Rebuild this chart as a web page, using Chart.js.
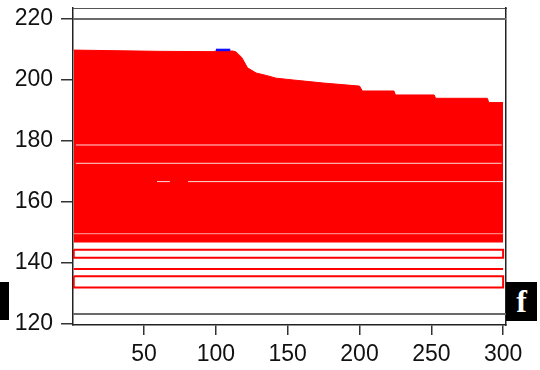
<!DOCTYPE html>
<html>
<head>
<meta charset="utf-8">
<script src="https://cdn.jsdelivr.net/npm/chart.js@4.4.1/dist/chart.umd.min.js"></script>
<style>
  html, body { margin: 0; padding: 0; background: #fff; }
  #wrap { position: relative; width: 540px; height: 370px; overflow: hidden; }
  canvas { display: block; }
  .tag {
    position: absolute; background: #000; color: #fff;
    font-family: "Liberation Serif", "DejaVu Serif", serif; font-weight: bold;
    font-size: 32px; line-height: 38px; text-align: center;
  }
  #tagE { left: -24px; top: 282px; width: 33px; height: 38px; }
  #tagF { left: 506px; top: 282px; width: 31px; height: 39px; }
</style>
</head>
<body>
<div id="wrap">
  <canvas id="c" width="540" height="370"></canvas>
  <div class="tag" id="tagE">e</div>
  <div class="tag" id="tagF">f</div>
</div>
<script>
// sample range of every trace
const runStart = 1;
const runEnd = 300;

// axis tick values
const xTicks = [50, 100, 150, 200, 250, 300];
const yTicks = [120, 140, 160, 180, 200, 220];

// upper edge of the dense bundle of red traces
const topX = [1, 59, 98, 100, 112, 114, 118, 122, 128, 135, 142, 154, 175, 200, 202, 224, 225, 252, 253, 289, 290, 300];
const topY = [209.8, 209.4, 209.3, 209.5, 209.5, 209.2, 207.4, 204.0, 202.3, 201.5, 200.6, 200.0, 199.0, 198.0, 196.4, 196.4, 195.1, 195.1, 194.0, 194.0, 192.6, 192.6];

// lower edge of the dense bundle
const bundleFloor = 149.7;

// single blue trace riding on top of the bundle
const blueX = [100, 110];
const blueY = [209.85, 209.85];

// thin gaps running through the bundle
const gapLevels = [178.7, 172.7];
const gapFrom = [2.5, 2.5];
const gapTo = [299, 299];
const shortGapLevel = 166.7;
const shortGapX = [[59, 68], [80.6, 300]];

// separate band just under the bundle
const bandTop = 149.3;
const bandBottom = 146.7;

// outlined pairs of traces near the bottom
const loopPairs = [[144.33, 141.74], [135.67, 131.97]];
const loneTrace = 138.03;

// horizontal reference lines
const refLevels = [220, 123.3];

const RED = '#ff0000';
const pts = (xs, ys) => xs.map((x, i) => ({ x: x, y: ys[i] }));
const flat = (v, a, b) => [{ x: a, y: v }, { x: b, y: v }];
const loop = (a, b) => [
  { x: runStart, y: a }, { x: runEnd, y: a },
  { x: runEnd, y: b }, { x: runStart, y: b }, { x: runStart, y: a }
];

const base = { pointRadius: 0, tension: 0, fill: false };
const datasets = [];

// blue trace on top
datasets.push(Object.assign({}, base, {
  data: pts(blueX, blueY), borderColor: '#1010ff', borderWidth: 2.5
}));

// gaps
gapLevels.forEach((v, i) => datasets.push(Object.assign({}, base, {
  data: flat(v, gapFrom[i], gapTo[i]), borderColor: 'rgba(255,255,255,0.85)', borderWidth: 1
})));
shortGapX.forEach(seg => datasets.push(Object.assign({}, base, {
  data: flat(shortGapLevel, seg[0], seg[1]), borderColor: 'rgba(255,255,255,0.85)', borderWidth: 1
})));

// the bundle
datasets.push(Object.assign({}, base, {
  data: pts(topX, topY), borderColor: RED, borderWidth: 1,
  backgroundColor: RED, fill: { value: bundleFloor }
}));

// band below the bundle
datasets.push(Object.assign({}, base, {
  data: flat(bandTop, runStart, runEnd), borderColor: RED, borderWidth: 1,
  backgroundColor: RED, fill: { value: bandBottom }
}));

// outlined trace pairs and the single trace
loopPairs.forEach(p => datasets.push(Object.assign({}, base, {
  data: loop(p[0], p[1]), borderColor: RED, borderWidth: 2
})));
datasets.push(Object.assign({}, base, {
  data: flat(loneTrace, runStart, runEnd), borderColor: RED, borderWidth: 2
}));

// reference lines
refLevels.forEach(v => datasets.push(Object.assign({}, base, {
  data: flat(v, 0.5, 302), borderColor: '#6a6a6a', borderWidth: 2
})));

const tickFont = { family: '"Liberation Sans", Arial, sans-serif', size: 23 };
const noPad = s => { s.paddingTop = 0; s.paddingBottom = 0; s.paddingLeft = 0; s.paddingRight = 0; };

new Chart(document.getElementById('c'), {
  type: 'line',
  data: { datasets: datasets },
  options: {
    responsive: false,
    animation: false,
    events: [],
    layout: { padding: { left: 0, right: 34, top: 8, bottom: 0 } },
    plugins: { legend: { display: false }, tooltip: { enabled: false } },
    scales: {
      x: {
        type: 'linear', min: 0.5, max: 302,
        afterBuildTicks: s => { s.ticks = xTicks.map(v => ({ value: v })); },
        afterFit: s => { s.height = 45; noPad(s); },
        grid: { drawOnChartArea: false, drawTicks: true, tickLength: 10, color: '#333', lineWidth: 1.5 },
        border: { display: true, color: '#222', width: 1.5 },
        ticks: { font: tickFont, color: '#111', padding: 6, maxRotation: 0 }
      },
      y: {
        type: 'linear', min: 119.7, max: 223.6,
        afterBuildTicks: s => { s.ticks = yTicks.map(v => ({ value: v })); },
        afterFit: s => { s.width = 73; noPad(s); },
        grid: { drawOnChartArea: false, drawTicks: true, tickLength: 12, color: '#333', lineWidth: 1.5 },
        border: { display: true, color: '#222', width: 1.5 },
        ticks: { font: tickFont, color: '#111', padding: 8 }
      },
      xTop: {
        type: 'linear', position: 'top', min: 0, max: 1,
        afterFit: s => { s.height = 0; noPad(s); },
        grid: { display: false },
        border: { display: true, color: '#555', width: 1 },
        ticks: { display: false }
      },
      yRight: {
        type: 'linear', position: 'right', min: 0, max: 1,
        afterFit: s => { s.width = 0; noPad(s); },
        grid: { display: false },
        border: { display: true, color: '#222', width: 1.5 },
        ticks: { display: false }
      }
    }
  }
});
</script>
</body>
</html>
